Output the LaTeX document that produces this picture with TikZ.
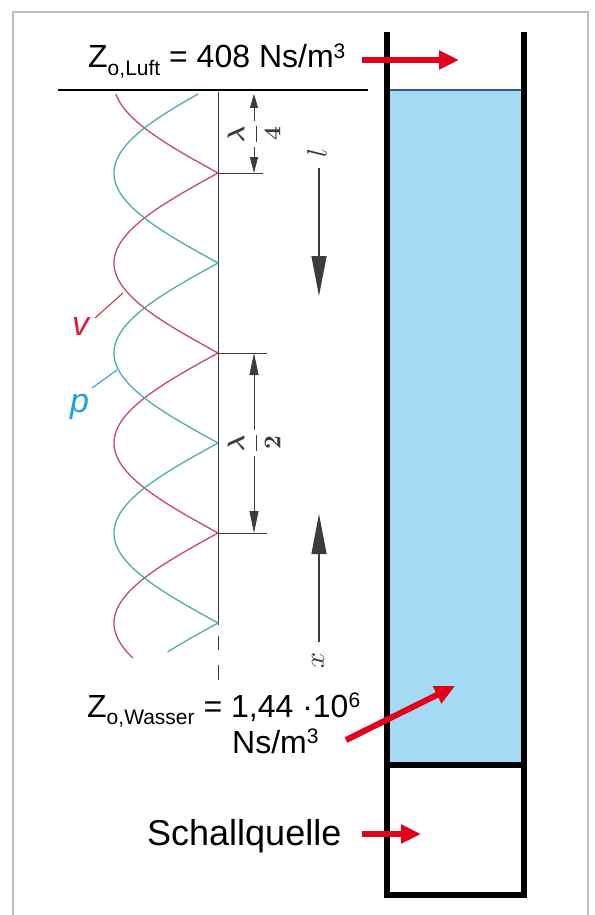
\documentclass[tikz,border=0pt]{standalone}
\usepackage{fontspec}
\setmainfont{Liberation Sans}
\usetikzlibrary{arrows.meta}
\definecolor{framegray}{RGB}{191,191,191}
\definecolor{water}{RGB}{165,218,245}
\definecolor{waterline}{RGB}{55,90,150}
\definecolor{arrowred}{RGB}{226,0,26}
\definecolor{vred}{RGB}{200,72,105}
\definecolor{pcyan}{RGB}{72,176,165}
\definecolor{vlabel}{RGB}{220,30,50}
\definecolor{plabel}{RGB}{30,160,225}
\definecolor{dimgray}{RGB}{60,60,60}
\newcommand\sbx[1]{\raisebox{-0.22em}{\fontsize{21}{21}\selectfont #1}}
\newcommand\spx[1]{\raisebox{0.3em}{\fontsize{21}{21}\selectfont #1}}
\begin{document}
\begin{tikzpicture}[x=1pt,y=-1pt,
  txt/.style={inner sep=0pt, anchor=base west, font=\fontsize{32}{38}\selectfont},
  wall/.style={line width=6pt, line join=miter},
  redarrow/.style={draw=arrowred, line width=6pt, -{Triangle[length=20pt,width=18pt]}},
  curvev/.style={vred, line width=1.3pt},
  curvep/.style={pcyan, line width=1.3pt},
  dimline/.style={dimgray, line width=0.8pt},
  dimhead/.style={-{Triangle[length=22pt,width=9pt]}},
  bighead/.style={-{Triangle[length=40pt,width=15pt]}},
  dimlabel/.style={inner sep=2pt, rotate=90, text=dimgray}
]
\useasboundingbox (0,0) rectangle (594,915);
% frame
\draw[framegray, line width=2pt] (13,925) -- (13,12) -- (588,12) -- (588,925);
% tube
\fill[water] (387,90) rectangle (524,765);
\draw[waterline, line width=2pt] (387,90.5) -- (524,90.5);
\draw[wall] (387,32) -- (387,895) -- (524,895) -- (524,32);
\draw[wall] (387,765) -- (524,765);
% top text and rule
\node[txt] (luft) at (88,68) {Z\sbx{o,Luft} = 408 Ns/m\spx{3}};
\coordinate (ruleA) at (58,90);
\coordinate (ruleB) at (368,90);
\draw[line width=1.2pt] (ruleA) -- (ruleB);
% axis
\coordinate (axTop) at (218,92);
\coordinate (axBot) at (218,625);
\draw[dimline, line width=0.9pt] (axTop) -- (axBot);
\coordinate (d1a) at (218,636); \coordinate (d1b) at (218,650);
\coordinate (d2a) at (218,665); \coordinate (d2b) at (218,680);
\draw[dimline, line width=0.9pt] (d1a) -- (d1b);
\draw[dimline, line width=0.9pt] (d2a) -- (d2b);
% curves
\draw[curvev, domain=94:658, samples=565] plot ({218-104*abs(sin(\x-173))}, \x);
\draw[curvep, domain=94:652, samples=559] plot ({218-104*abs(sin(\x-263))}, \x);
% ticks
\coordinate (t1a) at (218,173); \coordinate (t1b) at (263,173);
\coordinate (t2a) at (218,353); \coordinate (t2b) at (267,353);
\coordinate (t3a) at (218,533); \coordinate (t3b) at (267,533);
\draw[dimline] (t1a) -- (t1b);
\draw[dimline] (t2a) -- (t2b);
\draw[dimline] (t3a) -- (t3b);
% lambda/4
\node[dimlabel] (q4) at (254,134) {\scalebox{2.4}{\boldmath$\displaystyle\frac{\lambda}{4}$}};
\coordinate (q4top) at (254,94);
\coordinate (q4bot) at (254,173);
\draw[dimline, -{Triangle[length=14pt,width=8pt]}] (q4.east) -- (q4top);
\draw[dimline, -{Triangle[length=16pt,width=8pt]}] (q4.west) -- (q4bot);
% lambda/2
\node[dimlabel] (h2) at (254,443) {\scalebox{2.4}{\boldmath$\displaystyle\frac{\lambda}{2}$}};
\coordinate (h2top) at (254,353);
\coordinate (h2bot) at (254,533);
\draw[dimline, dimhead] (h2.east) -- (h2top);
\draw[dimline, dimhead] (h2.west) -- (h2bot);
% l arrow
\node[dimlabel] (llab) at (317,153) {\scalebox{2.8}{$l$}};
\coordinate (lstart) at (319,168);
\coordinate (lend) at (319,296);
\draw[dimline, line width=1.2pt, bighead] (lstart) -- (lend);
% x arrow
\node[dimlabel] (xlab) at (318,660) {\scalebox{2.8}{$x$}};
\coordinate (xstart) at (319,642);
\coordinate (xend) at (319,514);
\draw[dimline, line width=1.2pt, bighead] (xstart) -- (xend);
% v and p labels
\node[inner sep=0pt, anchor=base west, text=vlabel, font=\fontsize{34}{34}\selectfont\itshape] (vlab) at (72,335) {v};
\coordinate (va) at (95,318); \coordinate (vb) at (123,293);
\draw[vlabel, line width=1pt] (va) -- (vb);
\node[inner sep=0pt, anchor=base west, text=plabel, font=\fontsize{34}{34}\selectfont\itshape] (plab) at (70,412) {p};
\coordinate (pa) at (92,388); \coordinate (pb) at (117,370);
\draw[plabel, line width=1pt] (pa) -- (pb);
% Wasser text
\node[txt] (wasser1) at (87,717) {Z\sbx{o,Wasser} = 1,44 ·10\spx{6}};
\node[txt] (wasser2) at (232,753) {Ns/m\spx{3}};
% Schallquelle
\node[txt, font=\fontsize{36}{40}\selectfont] (schall) at (147,845) {Schallquelle};
% red arrows
\coordinate (ra1) at (362,60); \coordinate (rb1) at (459,60);
\draw[redarrow] (ra1) -- (rb1);
\coordinate (ra2) at (346,740); \coordinate (rb2) at (455,686);
\draw[redarrow] (ra2) -- (rb2);
\coordinate (ra3) at (362,834); \coordinate (rb3) at (421,834);
\draw[redarrow] (ra3) -- (rb3);
\end{tikzpicture}
\end{document}
